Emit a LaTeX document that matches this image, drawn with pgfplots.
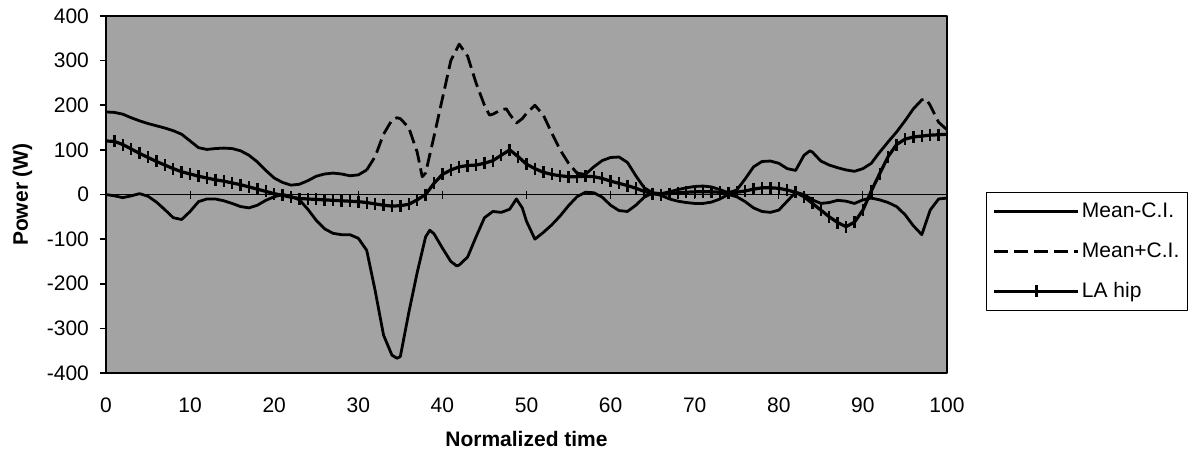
\documentclass[border=0pt]{standalone}
\usepackage{fontspec}
\setmainfont{Liberation Sans}
\usepackage{pgfplots}
\pgfplotsset{compat=1.18}
\begin{document}
\begin{tikzpicture}
\useasboundingbox (0,0) rectangle (594.5pt,226pt);
\begin{axis}[
  at={(53pt,39.5pt)}, anchor=south west,
  scale only axis, width=420.5pt, height=178.5pt,
  xmin=0, xmax=100, ymin=-400, ymax=400,
  axis line style={line width=1.4pt},
  axis background/.style={fill=black!36},
  xtick={0,10,...,100},
  xticklabels={0,10,20,30,40,50,60,70,80,90,100},
  ytick={-400,-300,...,400},
  yticklabels={-400,-300,-200,-100,0,100,200,300,400},
  xtick style={draw=none},
  ytick pos=left, tick align=outside,
  major tick length=3pt,
  ytick style={line width=0.8pt, black},
  tick label style={font=\fontsize{10.5}{12}\selectfont},
  xticklabel style={yshift=-6pt},
  yticklabel style={xshift=-2pt},
  xlabel={Normalized time},
  ylabel={Power (W)},
  label style={font=\fontsize{10.5}{12}\selectfont\bfseries},
  xlabel style={at={(axis description cs:0.5,-0.184)}, anchor=center},
  ylabel style={at={(axis description cs:-0.0993,0.5)}, anchor=center, rotate=0},
  extra y ticks={0}, extra y tick labels={},
  extra y tick style={grid=major, major grid style={black, line width=0.5pt}, tick style={draw=none}},
  legend style={at={(1.0464,0.507)}, anchor=north west, draw=black, line width=0.7pt,
    font=\fontsize{10.5}{12}\selectfont, row sep=9pt, inner xsep=3pt, inner ysep=4pt,
    nodes={inner xsep=1pt, inner ysep=1pt}, cells={anchor=west}},
  legend image code/.code={\draw[mark repeat=2,mark phase=2,#1] plot coordinates {(0pt,0pt) (21pt,0pt) (42pt,0pt)};},
  line join=round,
]
% Mean-C.I.
\addplot[black, line width=1.4pt] coordinates {
(0,0)(1,-3)(2,-7)(3,-3)(4,2)(5,-4)(6,-17)(7,-34)(8,-52)(9,-56)(10,-38)
(11,-16)(12,-10)(13,-10)(14,-14)(15,-20)(16,-27)(17,-30)(18,-24)(19,-13)(20,-5)
(21,0)(22,-4)(23,-12)(24,-33)(25,-58)(26,-77)(27,-87)(28,-90)(29,-90)(30,-98)
(31,-125)(32,-215)(33,-315)(34,-360)(34.6,-367)(35,-363)(36,-265)(37,-175)(38,-95)(38.5,-80)
(39,-88)(40,-120)(41,-150)(41.7,-160)(42,-158)(43,-140)(44,-95)(45,-52)(46,-38)(47,-40)
(48,-33)(48.8,-10)(49.5,-30)(50,-60)(51,-100)(52,-85)(53,-68)(54,-48)(55,-25)(56,-5)
(57,5)(58,4)(59,-6)(60,-24)(61,-36)(62,-38)(63,-24)(64,-6)(65,3)(66,-2)
(67,-10)(68,-15)(69,-18)(70,-20)(71,-20)(72,-17)(73,-10)(74,0)(75,-5)(76,-16)
(77,-30)(78,-38)(79,-40)(80,-35)(81,-15)(82,5)(83,0)(84,-12)(85,-20)(86,-18)
(87,-13)(88,-15)(89,-20)(90,-12)(91,-8)(92,-12)(93,-18)(94,-27)(95,-45)(96,-70)
(97,-90)(98,-35)(99,-10)(100,-8)};
\addlegendentry{Mean-C.I.}
% Mean+C.I. (dashed where segments are long)
\addplot[black, line width=1.4pt, dash pattern=on 7pt off 3pt] coordinates {
(31,55)(32,85)(33,135)(34,167)(34.6,172)(35,170)(36,150)(37,95)(37.6,40)(38,48)
(39,130)(40,215)(41,300)(42,337)(43,310)(44,250)(45,200)(45.6,178)(46,180)(47,190)
(47.6,192)(48,180)(48.8,160)(49.5,170)(50,182)(51,200)(52,178)(53,138)(54,100)(55,70)
(56,48)(57,45)};
\addlegendentry{Mean+C.I.}
\addplot[black, line width=1.4pt, forget plot] coordinates {
(0,185)(1,184)(2,180)(3,172)(4,165)(5,159)(6,154)(7,149)(8,143)(9,135)(10,120)
(11,105)(12,101)(13,103)(14,104)(15,103)(16,98)(17,88)(18,73)(19,54)(20,37)
(21,27)(22,21)(23,23)(24,31)(25,41)(26,46)(27,48)(28,46)(29,42)(30,44)(31,55)};
\addplot[black, line width=1.4pt, forget plot] coordinates {
(57,45)(58,62)(59,76)(60,83)(61,84)(62,72)(63,42)(64,15)(65,4)(66,2)
(67,6)(68,11)(69,15)(70,18)(71,19)(72,17)(73,11)(74,4)(75,10)(76,35)
(77,62)(78,74)(79,75)(80,70)(81,58)(82,54)(83,88)(83.7,98)(84,95)(85,75)
(86,66)(87,60)(88,55)(89,52)(90,58)(91,70)(92,95)(93,118)(94,140)(95,165)(96,192)};
\addplot[black, line width=1.4pt, dash pattern=on 7pt off 3pt, forget plot] coordinates {
(96,192)(97,212)(97.5,214)(98,200)(99,162)(100,145)};
% LA hip
\addplot[black, line width=1.6pt, mark=|, mark size=3pt, mark options={solid, line width=1.2pt}] coordinates {
(0,120)(1,119)(2,112)(3,102)(4,92)(5,83)(6,74)(7,66)(8,58)(9,51)(10,46)
(11,41)(12,37)(13,33)(14,30)(15,26)(16,22)(17,17)(18,12)(19,7)(20,2)
(21,-2)(22,-6)(23,-9)(24,-10)(25,-11)(26,-12)(27,-13)(28,-14)(29,-15)(30,-16)
(31,-18)(32,-21)(33,-24)(34,-26)(35,-25)(36,-22)(37,-12)(38,0)(39,25)(40,45)
(41,55)(42,62)(43,65)(44,66)(45,70)(46,76)(47,88)(48,100)(49,85)(50,68)
(51,58)(52,50)(53,45)(54,42)(55,40)(56,40)(57,41)(58,40)(59,36)(60,30)
(61,25)(62,20)(63,14)(64,7)(65,2)(66,0)(67,2)(68,4)(69,5)(70,6)
(71,6)(72,6)(73,5)(74,4)(75,5)(76,8)(77,12)(78,15)(79,15)(80,14)
(81,10)(82,5)(83,-5)(84,-20)(85,-35)(86,-50)(87,-63)(88,-72)(89,-62)(90,-35)
(91,8)(92,47)(93,85)(94,112)(95,124)(96,129)(97,131)(98,133)(99,134)(100,135)};
\addlegendentry{LA hip}
% small tick marks on the zero line
\addplot[black, only marks, mark=|, mark size=2pt, mark options={line width=0.5pt}, forget plot] coordinates {
(10,0)(20,0)(30,0)(40,0)(50,0)(60,0)(70,0)(80,0)(90,0)};
\end{axis}
\end{tikzpicture}
\end{document}
